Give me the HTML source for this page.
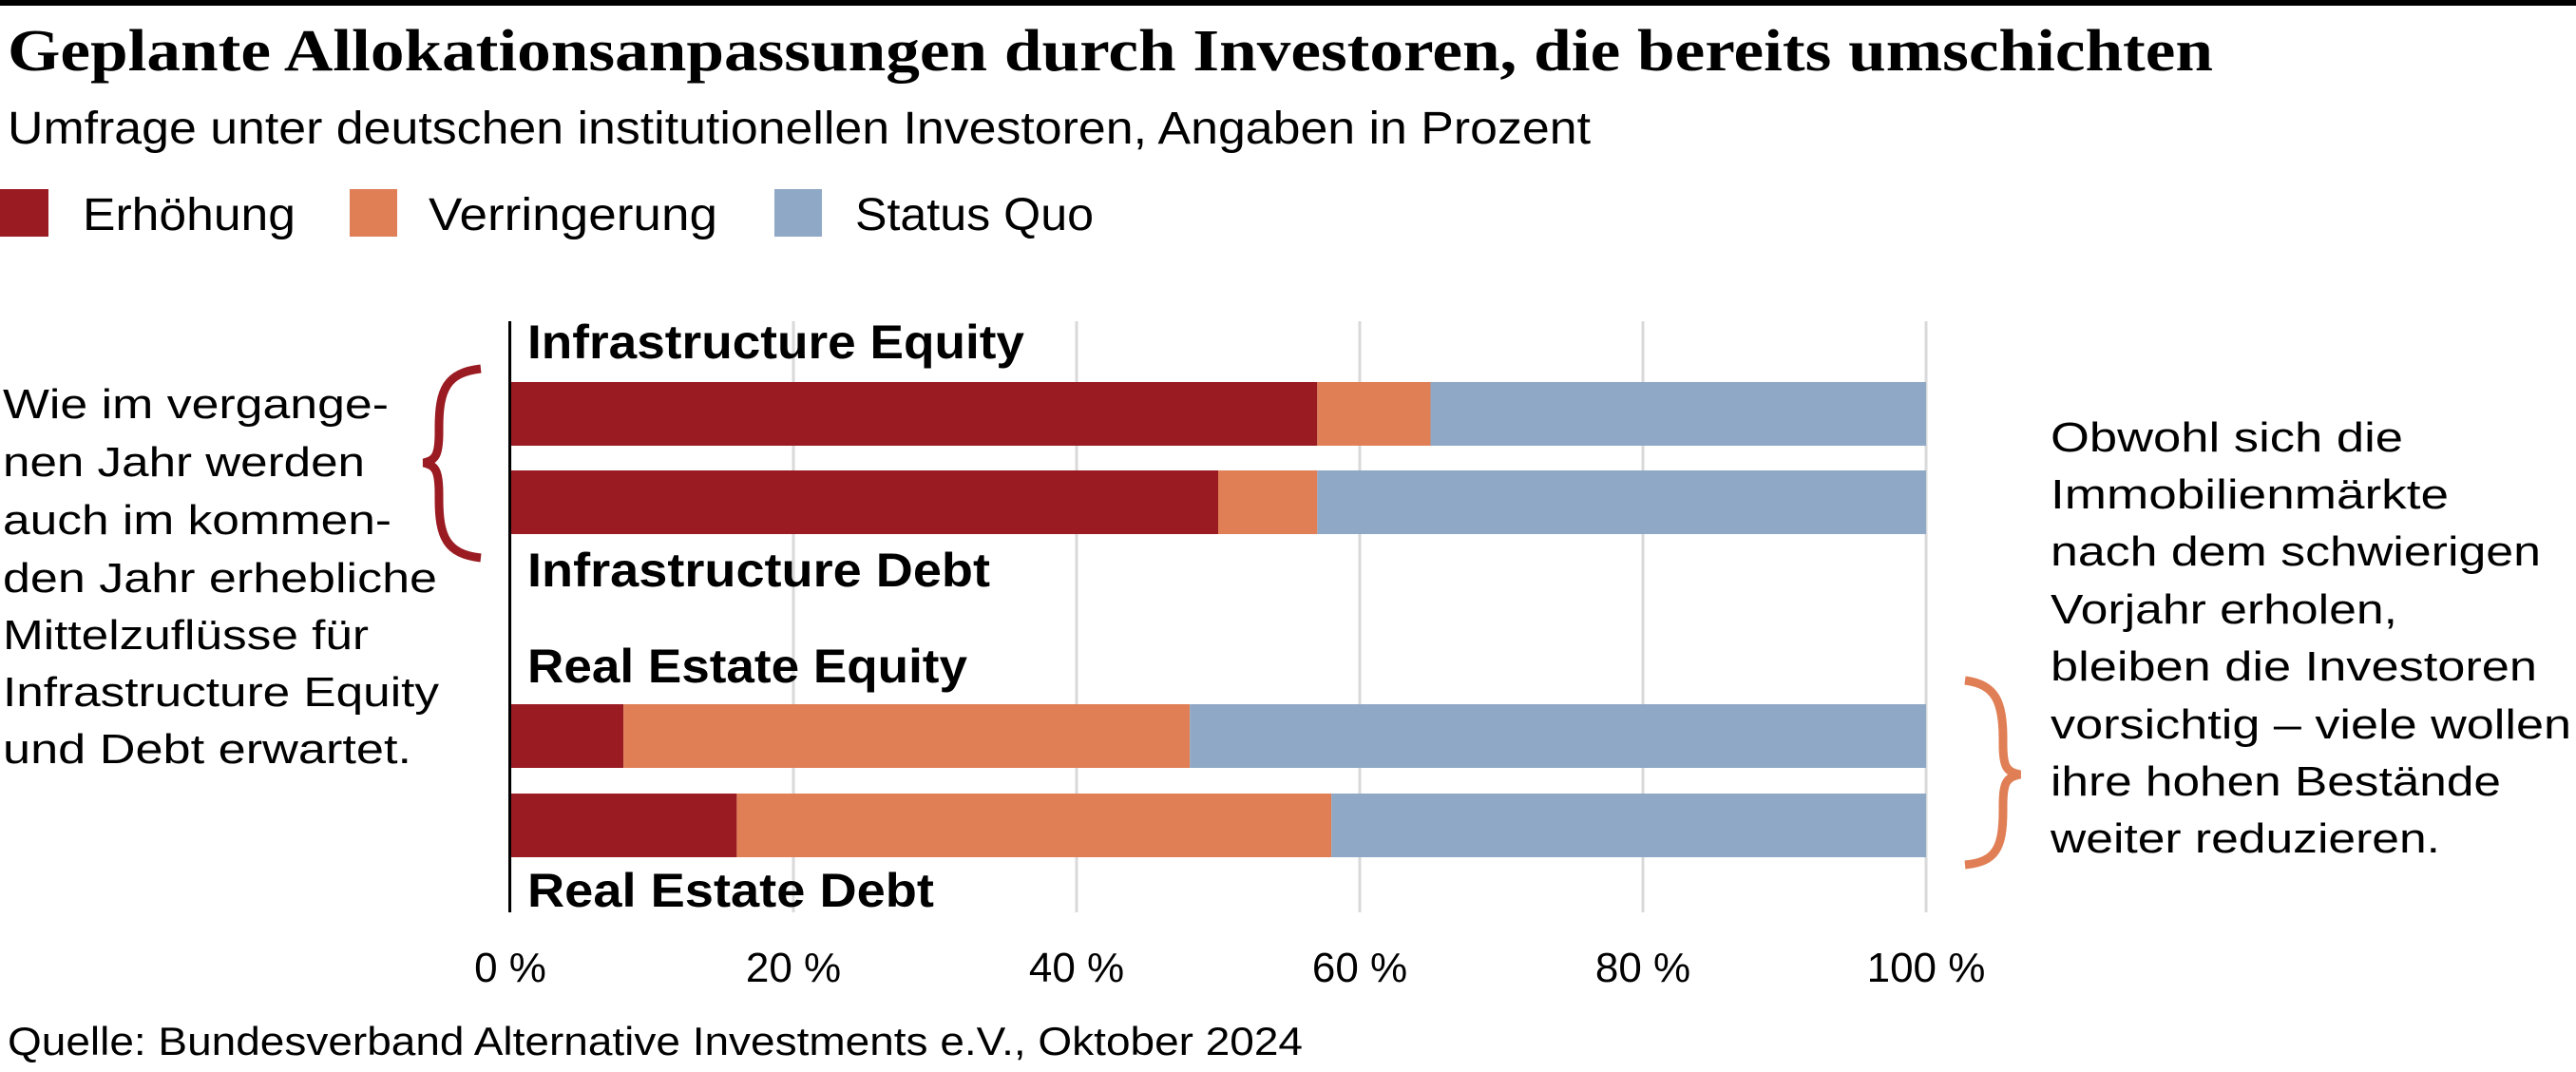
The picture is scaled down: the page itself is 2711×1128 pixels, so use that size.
<!DOCTYPE html>
<html><head><meta charset="utf-8"><style>
html,body{margin:0;padding:0;background:#fff;}
svg{display:block;}
text{font-family:"Liberation Sans",sans-serif;fill:#000;}
</style></head><body>
<svg id="chart" width="2711" height="1128" viewBox="0 0 2711 1128" xmlns="http://www.w3.org/2000/svg">
<rect x="0" y="0" width="2711" height="6" fill="#000"/>
<text x="8" y="74" style="font-family:'Liberation Serif',serif;font-weight:bold;font-size:62px" textLength="2321" lengthAdjust="spacingAndGlyphs">Geplante Allokationsanpassungen durch Investoren, die bereits umschichten</text>
<text x="8" y="151" font-size="48" textLength="1666" lengthAdjust="spacingAndGlyphs">Umfrage unter deutschen institutionellen Investoren, Angaben in Prozent</text>
<g>
<rect x="0" y="199" width="51" height="50" fill="#9b1b22"/>
<text x="87" y="242" font-size="48" textLength="224" lengthAdjust="spacingAndGlyphs">Erhöhung</text>
<rect x="368" y="199" width="50" height="50" fill="#e07f56"/>
<text x="451" y="242" font-size="48" textLength="304" lengthAdjust="spacingAndGlyphs">Verringerung</text>
<rect x="815" y="199" width="50" height="50" fill="#8fa8c6"/>
<text x="900" y="242" font-size="48" textLength="251" lengthAdjust="spacingAndGlyphs">Status Quo</text>
</g>
<g id="grid"></g>
<g id="bars"></g>
<g id="labels"></g>
<g id="ticks"></g>
<rect x="535" y="338" width="3" height="622" fill="#000"/>
<g font-size="44">
<text x="3" y="440" textLength="406" lengthAdjust="spacingAndGlyphs">Wie im vergange-</text>
<text x="3" y="501" textLength="381" lengthAdjust="spacingAndGlyphs">nen Jahr werden</text>
<text x="3" y="562" textLength="409" lengthAdjust="spacingAndGlyphs">auch im kommen-</text>
<text x="3" y="623" textLength="457" lengthAdjust="spacingAndGlyphs">den Jahr erhebliche</text>
<text x="3" y="683" textLength="385" lengthAdjust="spacingAndGlyphs">Mittelzuflüsse für</text>
<text x="3" y="743" textLength="459" lengthAdjust="spacingAndGlyphs">Infrastructure Equity</text>
<text x="3" y="803" textLength="430" lengthAdjust="spacingAndGlyphs">und Debt erwartet.</text>
</g>
<path d="M506,388 C470,392 462,410 462,450 L462,455 C462,480 458,484 446,487 C458,490 462,494 462,520 L462,525 C462,565 470,583 506,587" fill="none" stroke="#9b1b22" stroke-width="9"/>
<g font-size="44">
<text x="2158" y="475" textLength="371" lengthAdjust="spacingAndGlyphs">Obwohl sich die</text>
<text x="2158" y="535" textLength="419" lengthAdjust="spacingAndGlyphs">Immobilienmärkte</text>
<text x="2158" y="595" textLength="516" lengthAdjust="spacingAndGlyphs">nach dem schwierigen</text>
<text x="2158" y="656" textLength="365" lengthAdjust="spacingAndGlyphs">Vorjahr erholen,</text>
<text x="2158" y="716" textLength="512" lengthAdjust="spacingAndGlyphs">bleiben die Investoren</text>
<text x="2158" y="777" textLength="548" lengthAdjust="spacingAndGlyphs">vorsichtig – viele wollen</text>
<text x="2158" y="837" textLength="474" lengthAdjust="spacingAndGlyphs">ihre hohen Bestände</text>
<text x="2158" y="897" textLength="410" lengthAdjust="spacingAndGlyphs">weiter reduzieren.</text>
</g>
<path d="M2068,716 C2100,720 2108,738 2108,778 L2108,783 C2108,808 2112,812 2126,815 C2112,818 2108,822 2108,848 L2108,853 C2108,893 2100,907 2068,910" fill="none" stroke="#e07f56" stroke-width="9"/>
<text x="8" y="1110" font-size="42" textLength="1363" lengthAdjust="spacingAndGlyphs">Quelle: Bundesverband Alternative Investments e.V., Oktober 2024</text>
</svg>
<script>
const categories = ["Infrastructure Equity", "Infrastructure Debt", "Real Estate Equity", "Real Estate Debt"];
const erhoehung = [57, 50, 8, 16];
const verringerung = [8, 7, 40, 42];
const statusQuo = [35, 43, 52, 42];
const tickValues = [0, 20, 40, 60, 80, 100];
const tickLabels = ["0 %", "20 %", "40 %", "60 %", "80 %", "100 %"];

const NS = "http://www.w3.org/2000/svg";
const X0 = 537, X1 = 2027;
function xScale(v){ return X0 + (X1 - X0) * v / 100; }
const barTops = [402, 495, 741, 835];
const barH = 67;
const labelBase = [377, 617, 718, 954];
const labelW = [523, 487, 463, 428];
const colors = ["#9b1b22", "#e07f56", "#8fa8c6"];
const seriesNames = ["erhoehung", "verringerung", "status-quo"];

const grid = document.getElementById('grid');
const ticks = document.getElementById('ticks');
tickValues.forEach((v, i) => {
  const l = document.createElementNS(NS, 'line');
  
  
  l.setAttribute('x1', xScale(v)); l.setAttribute('x2', xScale(v));
  l.setAttribute('y1', 338); l.setAttribute('y2', 960);
  l.setAttribute('stroke', '#d9d9d9'); l.setAttribute('stroke-width', 3);
  grid.appendChild(l);
  const t = document.createElementNS(NS, 'text');
  
  
  t.setAttribute('x', xScale(v)); t.setAttribute('y', 1033);
  t.setAttribute('text-anchor', 'middle'); t.setAttribute('font-size', 44);
  t.textContent = tickLabels[i];
  ticks.appendChild(t);
});

const bars = document.getElementById('bars');
const labels = document.getElementById('labels');
categories.forEach((c, i) => {
  const vals = [erhoehung[i], verringerung[i], statusQuo[i]];
  let acc = 0;
  vals.forEach((v, s) => {
    const r = document.createElementNS(NS, 'rect');
    
    
    r.setAttribute('x', xScale(acc));
    r.setAttribute('width', xScale(acc + v) - xScale(acc));
    r.setAttribute('y', barTops[i]); r.setAttribute('height', barH);
    r.setAttribute('fill', colors[s]);
    bars.appendChild(r);
    acc += v;
  });
  const t = document.createElementNS(NS, 'text');
  
  
  t.setAttribute('x', 555); t.setAttribute('y', labelBase[i]);
  t.setAttribute('font-size', 50); t.setAttribute('font-weight', 'bold');
  t.setAttribute('textLength', labelW[i]); t.setAttribute('lengthAdjust', 'spacingAndGlyphs');
  t.textContent = c;
  labels.appendChild(t);
});
</script>
</body></html>
